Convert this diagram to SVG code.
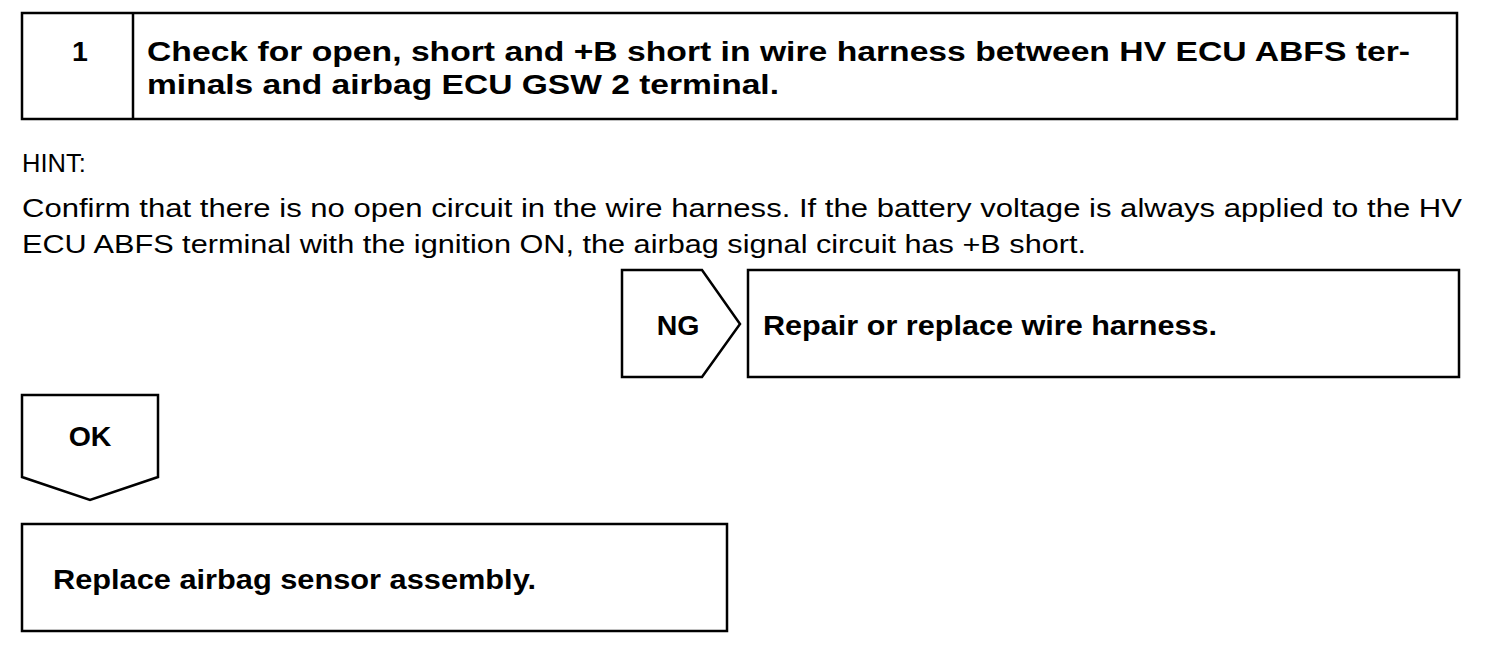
<svg xmlns="http://www.w3.org/2000/svg" width="1504" height="658" viewBox="0 0 1504 658">
<style>
.box{fill:#fff;stroke:#000;stroke-width:2.5}
.b{font-family:"Liberation Sans",Arial,sans-serif;font-weight:bold;font-size:28.5px;fill:#000}
.r{font-family:"Liberation Sans",Arial,sans-serif;font-size:25.5px;fill:#000}
</style>
<rect width="1504" height="658" fill="#fff"/>
<g id="step1">
<rect class="box" x="22" y="13" width="1435" height="106"/>
<line x1="133" y1="13" x2="133" y2="119" stroke="#000" stroke-width="2.5"/>
<text class="b" x="80" y="61" text-anchor="middle">1</text>
<text class="b" x="147" y="61" textLength="1263" lengthAdjust="spacingAndGlyphs">Check for open, short and +B short in wire harness between HV ECU ABFS ter-</text>
<text class="b" x="147" y="94" textLength="632" lengthAdjust="spacingAndGlyphs">minals and airbag ECU GSW 2 terminal.</text>
</g>
<g id="hint">
<text class="r" x="22" y="172">HINT:</text>
<text class="r" x="22" y="217" textLength="1440" lengthAdjust="spacingAndGlyphs">Confirm that there is no open circuit in the wire harness. If the battery voltage is always applied to the HV</text>
<text class="r" x="22" y="253" textLength="1064" lengthAdjust="spacingAndGlyphs">ECU ABFS terminal with the ignition ON, the airbag signal circuit has +B short.</text>
</g>
<g id="connectors">
<g id="ng">
<polygon class="box" points="622,270 702,270 740,324 702,377 622,377"/>
<text class="b" x="678" y="335" text-anchor="middle">NG</text>
</g>
<g id="ok">
<polygon class="box" points="22,395 158,395 158,477 90,500 22,477"/>
<text class="b" x="90" y="446" text-anchor="middle">OK</text>
</g>
</g>
<g id="repair">
<rect class="box" x="748" y="270" width="711" height="107"/>
<text class="b" x="763" y="335" textLength="454" lengthAdjust="spacingAndGlyphs">Repair or replace wire harness.</text>
</g>
<g id="replace">
<rect class="box" x="22" y="524" width="705" height="107"/>
<text class="b" x="53" y="589" textLength="483" lengthAdjust="spacingAndGlyphs">Replace airbag sensor assembly.</text>
</g>
</svg>
